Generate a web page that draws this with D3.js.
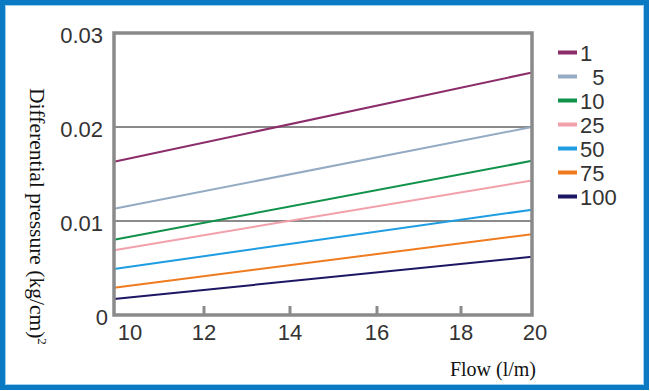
<!DOCTYPE html>
<html>
<head>
<meta charset="utf-8">
<script src="https://cdn.jsdelivr.net/npm/d3@7/dist/d3.min.js"></script>
<style>
  body { margin: 0; background: #fff; }
  svg { display: block; }
  .tick-label { font-family: "Liberation Sans", Arial, sans-serif; font-size: 22px; fill: #333; }
  .axis-title { font-family: "Liberation Serif", "Times New Roman", serif; font-size: 20px; fill: #111; }
</style>
</head>
<body>
<svg id="chart" width="650" height="391"></svg>
<script>
// flow readings (l/m) where each line starts and ends
var flowPoints = [10, 20];
var xTicks = [10, 12, 14, 16, 18, 20];
var yTicks = [0, 0.01, 0.02, 0.03];
var yTickLabels = ["0", "0.01", "0.02", "0.03"];

// legend entries
var seriesNames = ["1", "  5", "10", "25", "50", "75", "100"];
var seriesColors = ["#8c2d6b", "#94abc3", "#10924a", "#f2a0aa", "#1e9de2", "#ef7b1e", "#1d1663"];

// differential pressure at 10 and 20 l/m
var dp1   = [0.0163, 0.0258];
var dp5   = [0.0113, 0.0200];
var dp10  = [0.0080, 0.0164];
var dp25  = [0.0069, 0.0143];
var dp50  = [0.0049, 0.0112];
var dp75  = [0.0029, 0.0086];
var dp100 = [0.0017, 0.0062];

var allSeries = [dp1, dp5, dp10, dp25, dp50, dp75, dp100];

var svg = d3.select("#chart");

// outer blue frame
svg.append("rect")
  .attr("x", 2.5).attr("y", 2.5).attr("width", 644).attr("height", 385)
  .attr("fill", "#fff").attr("stroke", "#0a7bc2").attr("stroke-width", 5);
svg.append("rect")
  .attr("x", 5.5).attr("y", 5.5).attr("width", 638).attr("height", 379)
  .attr("fill", "none").attr("stroke", "#9fd0ef").attr("stroke-width", 1);

// the printed axis is not evenly spaced, so use a piecewise scale
var x = d3.scaleLinear()
  .domain(xTicks)
  .range([114, 204, 290, 377, 461, 532]);
var y = d3.scaleLinear().domain([0, 0.03]).range([315, 33]);

var plotLeft = x(10), plotRight = x(20), plotTop = y(0.03), plotBottom = y(0);

// grid lines
svg.selectAll(".grid")
  .data([0.01, 0.02])
  .enter().append("line")
  .attr("x1", plotLeft).attr("x2", plotRight)
  .attr("y1", function(d) { return y(d); })
  .attr("y2", function(d) { return y(d); })
  .attr("stroke", "#8a8a8a").attr("stroke-width", 2);

// inner tick marks on the bottom
svg.selectAll(".xtick")
  .data(xTicks.slice(1, -1))
  .enter().append("line")
  .attr("x1", function(d) { return x(d); })
  .attr("x2", function(d) { return x(d); })
  .attr("y1", plotBottom).attr("y2", plotBottom - 9)
  .attr("stroke", "#8a8a8a").attr("stroke-width", 3);

// series lines
var line = d3.line()
  .x(function(d, i) { return x(flowPoints[i]); })
  .y(function(d) { return y(d); });

svg.selectAll(".series")
  .data(allSeries)
  .enter().append("path")
  .attr("d", line)
  .attr("fill", "none")
  .attr("stroke", function(d, i) { return seriesColors[i]; })
  .attr("stroke-width", 2);

// plot frame
svg.append("rect")
  .attr("x", plotLeft).attr("y", plotTop)
  .attr("width", plotRight - plotLeft).attr("height", plotBottom - plotTop)
  .attr("fill", "none").attr("stroke", "#8a8a8a").attr("stroke-width", 3.5);

// y tick labels
svg.selectAll(".ylab")
  .data(yTicks)
  .enter().append("text")
  .attr("class", "tick-label")
  .attr("x", function(d) { return d === 0 ? 108 : 103; })
  .attr("y", function(d) { return y(d) + 10; })
  .attr("text-anchor", "end")
  .text(function(d, i) { return yTickLabels[i]; });

// x tick labels
svg.selectAll(".xlab")
  .data(xTicks)
  .enter().append("text")
  .attr("class", "tick-label")
  .attr("x", function(d) {
    if (d === 10) return x(d) + 16;
    if (d === 20) return x(d) + 3;
    return x(d);
  })
  .attr("y", 340)
  .attr("text-anchor", "middle")
  .text(function(d) { return d; });

// axis titles
svg.append("text")
  .attr("class", "axis-title")
  .attr("x", 536).attr("y", 376)
  .attr("text-anchor", "end")
  .text("Flow (l/m)");

var yTitle = svg.append("text")
  .attr("class", "axis-title")
  .style("font-size", "21.5px")
  .attr("transform", "translate(30,88) rotate(90)")
  .attr("text-anchor", "start");
yTitle.append("tspan").text("Differential pressure (kg/cm)");
yTitle.append("tspan").attr("font-size", "13px").attr("dy", -8).text("2");

// legend
var legend = svg.selectAll(".legend")
  .data(seriesNames)
  .enter().append("g")
  .attr("transform", function(d, i) { return "translate(558," + (52.5 + i * 24) + ")"; });

legend.append("line")
  .attr("x1", 0).attr("x2", 19)
  .attr("stroke", function(d, i) { return seriesColors[i]; })
  .attr("stroke-width", 4);

legend.append("text")
  .attr("class", "tick-label")
  .attr("x", 22).attr("y", 8)
  .style("white-space", "pre")
  .text(function(d) { return d; });
</script>
</body>
</html>
